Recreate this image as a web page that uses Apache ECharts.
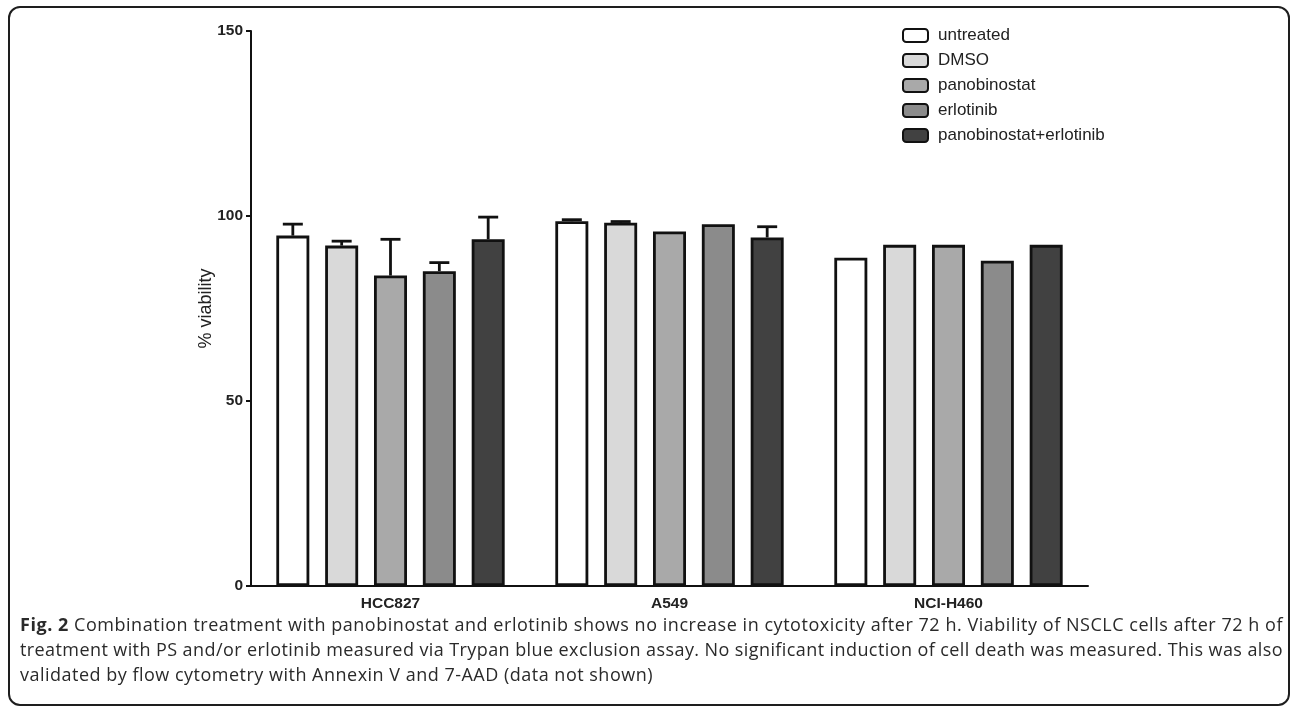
<!DOCTYPE html>
<html>
<head>
<meta charset="utf-8">
<script src="https://cdn.jsdelivr.net/npm/echarts@6/dist/echarts.min.js"></script>
<style>
  html, body { margin: 0; padding: 0; background: #fff; }
  #wrap { position: relative; width: 1295px; height: 714px; overflow: hidden; }
  #frame { position: absolute; left: 8px; top: 6px; width: 1282px; height: 700px;
           border: 2px solid #1e1e1e; border-radius: 12px; box-sizing: border-box; }
  #chart { position: absolute; left: 0; top: 0; width: 1295px; height: 714px; }
  #caption { position: absolute; left: 20px; top: 612px; width: 1270px;
             font-family: "Open Sans", sans-serif; font-size: 18px; line-height: 25px; color: #2a2a2a; }
  #caption span.line { display: inline-block; white-space: nowrap; }
  #caption b { font-weight: bold; }
</style>
</head>
<body>
<div id="wrap">
  <div id="chart"></div>
  <div id="frame"></div>
  <div id="caption"><span class="line fit" data-w="1263"><b>Fig. 2</b> Combination treatment with panobinostat and erlotinib shows no increase in cytotoxicity after 72 h. Viability of NSCLC cells after 72 h of</span><br><span class="line fit" data-w="1263">treatment with PS and/or erlotinib measured via Trypan blue exclusion assay. No significant induction of cell death was measured. This was also</span><br><span class="line fit" data-w="633">validated by flow cytometry with Annexin V and 7-AAD (data not shown)</span></div>
</div>
<script>
// fit the caption lines to the reference line widths
(function () {
  document.querySelectorAll('#caption .fit').forEach(el => {
    const target = +el.getAttribute('data-w');
    const w = el.getBoundingClientRect().width;
    const n = el.textContent.length;
    el.style.letterSpacing = ((target - w) / n) + 'px';
  });
})();

// ---- data ----
const categories = ['HCC827', 'A549', 'NCI-H460'];
const seriesNames = ['untreated', 'DMSO', 'panobinostat', 'erlotinib', 'panobinostat+erlotinib'];
const untreated = [94.7, 98.6, 88.7];
const dmso = [92.0, 98.2, 92.2];
const panobinostat = [83.9, 95.8, 92.2];
const erlotinib = [85.1, 97.8, 87.9];
const combo = [93.7, 94.2, 92.2];
const errUntreated = [3.1, 0.4, 0];
const errDmso = [1.2, 0.3, 0];
const errPanobinostat = [9.8, 0, 0];
const errErlotinib = [2.3, 0, 0];
const errCombo = [6.0, 2.9, 0];
const yTicks = [0, 50, 100, 150];

const values = [untreated, dmso, panobinostat, erlotinib, combo];
const errors = [errUntreated, errDmso, errPanobinostat, errErlotinib, errCombo];
const colors = ['#ffffff', '#d9d9d9', '#a9a9a9', '#8b8b8b', '#414141'];

const BAR_W = 33;
const BAR_GAP = 0.48; // fraction of bar width
const CAP_W = 20;
const FONT = 'Liberation Sans, Arial, sans-serif';

const chart = echarts.init(document.getElementById('chart'));

const barSeries = seriesNames.map((name, i) => ({
  name: name,
  type: 'bar',
  data: values[i],
  barWidth: BAR_W,
  barGap: (BAR_GAP * 100) + '%',
  itemStyle: { color: colors[i], borderColor: '#111', borderWidth: 2.8 },
  emphasis: { disabled: true },
  z: 2
}));

const errSeries = seriesNames.map((name, i) => ({
  type: 'custom',
  name: name + ' err',
  data: values[i].map((v, k) => [k, v, v + errors[i][k]]),
  z: 3,
  renderItem: function (params, api) {
    const k = api.value(0);
    const lo = api.coord([k, api.value(1)]);
    const hi = api.coord([k, api.value(2)]);
    const step = BAR_W * (1 + BAR_GAP);
    const x = lo[0] + (i - 2) * step;
    if (api.value(2) - api.value(1) <= 0) return null;
    return {
      type: 'group',
      children: [
        { type: 'line', shape: { x1: x, y1: lo[1], x2: x, y2: hi[1] },
          style: { stroke: '#111', lineWidth: 2.8 } },
        { type: 'line', shape: { x1: x - CAP_W / 2, y1: hi[1], x2: x + CAP_W / 2, y2: hi[1] },
          style: { stroke: '#111', lineWidth: 2.8 } }
      ]
    };
  }
}));

chart.setOption({
  animation: false,
  backgroundColor: '#fff',
  grid: { left: 251, right: 207, top: 31, bottom: 128, containLabel: false },
  legend: {
    data: seriesNames,
    orient: 'vertical',
    left: 902,
    top: 27,
    padding: 0,
    itemWidth: 25,
    itemHeight: 13,
    itemGap: 8,
    icon: 'roundRect',
    textStyle: { fontFamily: FONT, fontSize: 17, color: '#222', padding: [0, 0, 0, 5] }
  },
  xAxis: {
    type: 'category',
    data: categories,
    axisLine: { lineStyle: { color: '#111', width: 2 } },
    axisTick: { alignWithLabel: true, length: 5, lineStyle: { color: '#111', width: 2 } },
    axisLabel: { fontFamily: FONT, fontWeight: 'bold', fontSize: 15.5, color: '#222', margin: 10 }
  },
  yAxis: {
    type: 'value',
    min: yTicks[0],
    max: yTicks[yTicks.length - 1],
    interval: yTicks[1] - yTicks[0],
    name: '% viability',
    nameLocation: 'middle',
    nameGap: 36,
    nameMoveOverlap: false,
    nameTextStyle: { fontFamily: FONT, fontSize: 18, color: '#222' },
    axisLine: { show: true, lineStyle: { color: '#111', width: 2 } },
    axisTick: { show: true, length: 5, lineStyle: { color: '#111', width: 2 } },
    splitLine: { show: false },
    axisLabel: { fontFamily: FONT, fontWeight: 'bold', fontSize: 15.5, color: '#222', margin: 8 }
  },
  series: barSeries.concat(errSeries)
});
</script>
</body>
</html>
